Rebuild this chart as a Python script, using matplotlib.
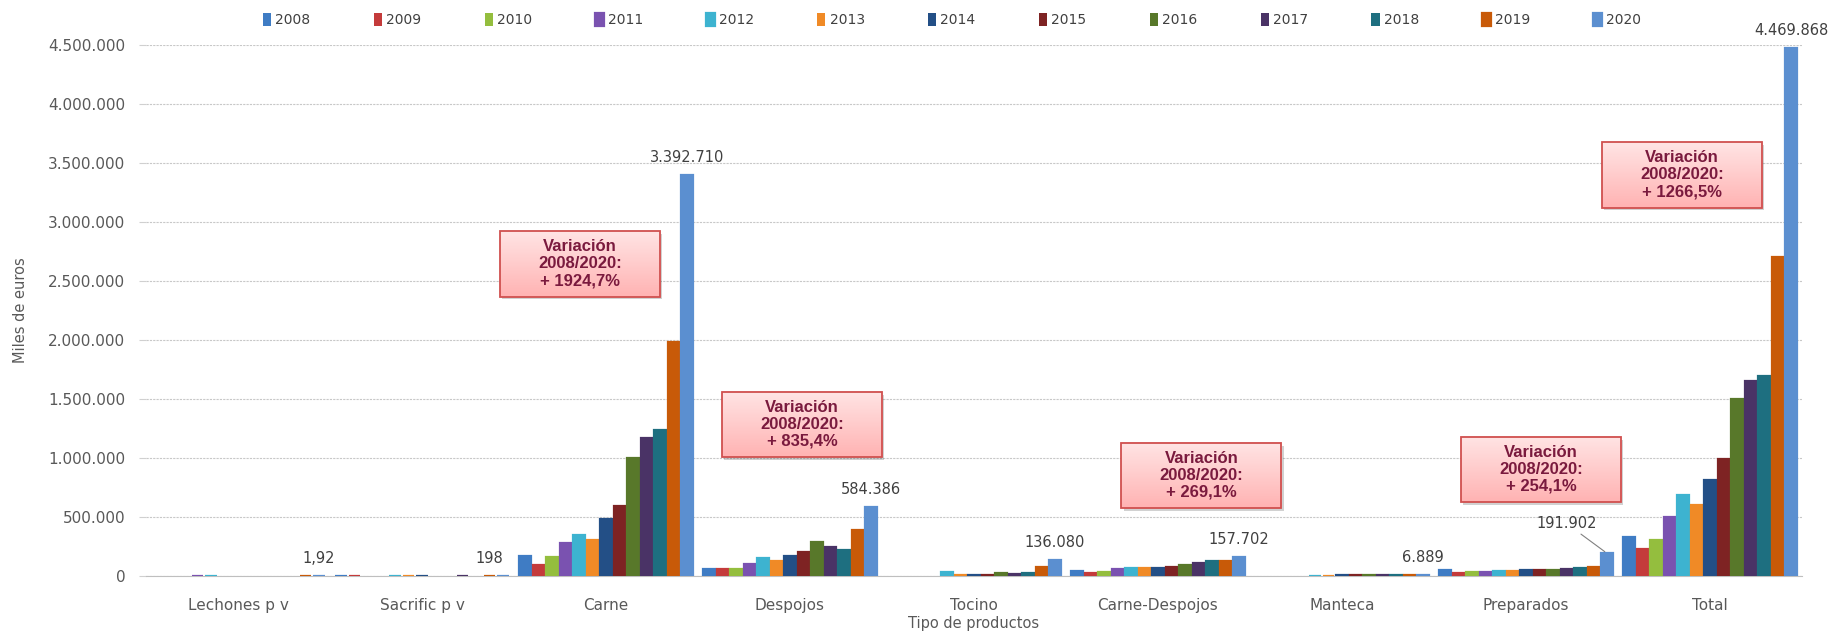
import numpy as np
import matplotlib
matplotlib.use('Agg')
import matplotlib.pyplot as plt
from matplotlib.patches import Rectangle
from matplotlib.colors import LinearSegmentedColormap
from matplotlib.ticker import FuncFormatter

# Categories and years
categories = ['Lechones p v', 'Sacrific p v', 'Carne', 'Despojos', 'Tocino',
              'Carne-Despojos', 'Manteca', 'Preparados', 'Total']
years = [2008, 2009, 2010, 2011, 2012, 2013, 2014, 2015, 2016, 2017, 2018, 2019, 2020]

# Values in thousands of euros, one list per product (2008..2020)
lechones = [0, 0, 0, 2.0, 3.0, 0, 0, 0, 0, 0, 0, 1.5, 1.92]
sacrific = [150, 120, 0, 0, 100, 110, 90, 0, 0, 60, 0, 170, 198]
carne = [167566, 90000, 158000, 282000, 347000, 308000, 480000, 596000,
         1000000, 1172000, 1237000, 1983000, 3392710]
despojos = [62475, 60000, 57000, 105000, 156000, 128000, 168000, 207000,
            287000, 247000, 219000, 392000, 584386]
tocino = [0, 0, 0, 0, 37000, 8000, 5000, 5000, 22000, 14000, 22000, 79000, 136080]
carne_despojos = [42726, 25000, 37000, 59000, 65000, 65000, 65000, 79000,
                  90000, 107000, 127000, 127000, 157702]
manteca = [0, 0, 0, 0, 4000, 4000, 4500, 4500, 5000, 5000, 5500, 6000, 6889]
preparados = [54195, 23000, 37000, 37000, 45000, 40000, 50000, 50000,
              50000, 62000, 70000, 72000, 191902]
total = [327104, 227000, 308000, 503000, 688000, 600000, 811000, 989000,
         1499000, 1654000, 1693000, 2699000, 4469868]

# Labels shown for 2020 and variation boxes
last_labels = ['1,92', '198', '3.392.710', '584.386', '136.080', '157.702',
               '6.889', '191.902', '4.469.868']
variation_pct = ['+ 1924,7%', '+ 835,4%', '+ 269,1%', '+ 254,1%', '+ 1266,5%']

colors = ['#3F7CC4', '#C43B3B', '#94BE3E', '#7A52B0', '#3DB3D0', '#F08A26',
          '#234F86', '#7E2323', '#58782A', '#4A3366', '#1E6F80', '#C85A08',
          '#5B8FD0']

data = np.array([lechones, sacrific, carne, despojos, tocino, carne_despojos,
                 manteca, preparados, total], dtype=float)

fig = plt.figure(figsize=(18.41, 6.31), dpi=100)
ax = fig.add_axes([146 / 1841, 1 - 576 / 631, (1802 - 146) / 1841, (576 - 44.6) / 631])

x = np.arange(len(categories))
slot = 0.0734
width = 0.064
bars = []
for j, yr in enumerate(years):
    h = data[:, j]
    lw = np.where(h > 0, 1.6, 0.0)
    b = ax.bar(x + (j - 6) * slot, h, width, color=colors[j], edgecolor=colors[j],
               linewidth=lw, label=str(yr), zorder=3)
    bars.append(b)

# 2020 value labels
for i, lab in enumerate(last_labels):
    xb = x[i] + 6 * slot
    top = data[i, -1]
    if categories[i] == 'Preparados':
        ax.annotate(lab, xy=(xb, top), xytext=(-40, 22), textcoords='offset pixels',
                    ha='center', va='bottom', fontsize=10.5, color='#404040',
                    arrowprops=dict(arrowstyle='-', color='#808080', lw=0.8,
                                    shrinkA=0, shrinkB=2),
                    zorder=6)
    else:
        dx = -14 if categories[i] == 'Sacrific p v' else 0
        ax.annotate(lab, xy=(xb, top), xytext=(dx, 10), textcoords='offset pixels',
                    ha='center', va='bottom', fontsize=10.5, color='#404040',
                    annotation_clip=False, zorder=6)

# Variation boxes (center x in category units, center y in values)
box_pos = [(1.859, 2644000), (3.065, 1284000), (5.236, 852000), (7.082, 903000),
           (7.848, 3398000)]
bw, bh = 0.87, 555000
grad = LinearSegmentedColormap.from_list('pinkgrad', ['#FFE4E4', '#FFB3B3'])
for (cx, cy), pct in zip(box_pos, variation_pct):
    x0, y0 = cx - bw / 2, cy - bh / 2
    shadow = Rectangle((x0 + 0.012, y0 - 25000), bw, bh, facecolor='#000000',
                       alpha=0.18, edgecolor='none', zorder=6)
    ax.add_patch(shadow)
    ax.imshow(np.linspace(0, 1, 50).reshape(-1, 1), cmap=grad, aspect='auto',
              extent=[x0, x0 + bw, y0, y0 + bh], zorder=7)
    ax.add_patch(Rectangle((x0, y0), bw, bh, facecolor='none', edgecolor='#D0504F',
                           linewidth=1.3, zorder=8))
    ax.text(cx, cy, 'Variación\n2008/2020:\n' + pct, ha='center', va='center',
            fontsize=12, fontweight='bold', color='#7A1A3E', family='Liberation Sans',
            linespacing=1.15, zorder=9)

ax.set_xlim(-0.5, len(categories) - 0.5)
ax.set_ylim(0, 4500000)
ax.set_yticks(np.arange(0, 4500001, 500000))
ax.yaxis.set_major_formatter(FuncFormatter(lambda v, p: f'{int(v):,}'.replace(',', '.')))
ax.set_xticks(x)
ax.set_xticklabels(categories)
ax.tick_params(axis='x', length=0, pad=16, labelsize=11, labelcolor='#595959')
ax.tick_params(axis='y', length=5, color='#D0D0D0', pad=10, labelsize=11,
               labelcolor='#595959')
ax.grid(axis='y', color='#C8C8C8', linestyle=(0, (2, 1)), linewidth=0.8, zorder=0)
ax.set_axisbelow(True)
for s in ['top', 'right', 'left']:
    ax.spines[s].set_visible(False)
ax.spines['bottom'].set_color('#BFBFBF')

ax.set_xlabel('Tipo de productos', fontsize=10.5, color='#595959', labelpad=2)
ax.set_ylabel('Miles de euros', fontsize=10.5, color='#595959', labelpad=14)

fig.legend(handles=bars, labels=[str(y) for y in years], loc='center',
           bbox_to_anchor=(0.517, 1 - 20 / 631), ncol=13, frameon=False,
           fontsize=10, handlelength=0.6, handleheight=1.1, handletextpad=0.3,
           columnspacing=4.55, labelcolor='#404040')

fig.savefig('out.png', dpi=100)
